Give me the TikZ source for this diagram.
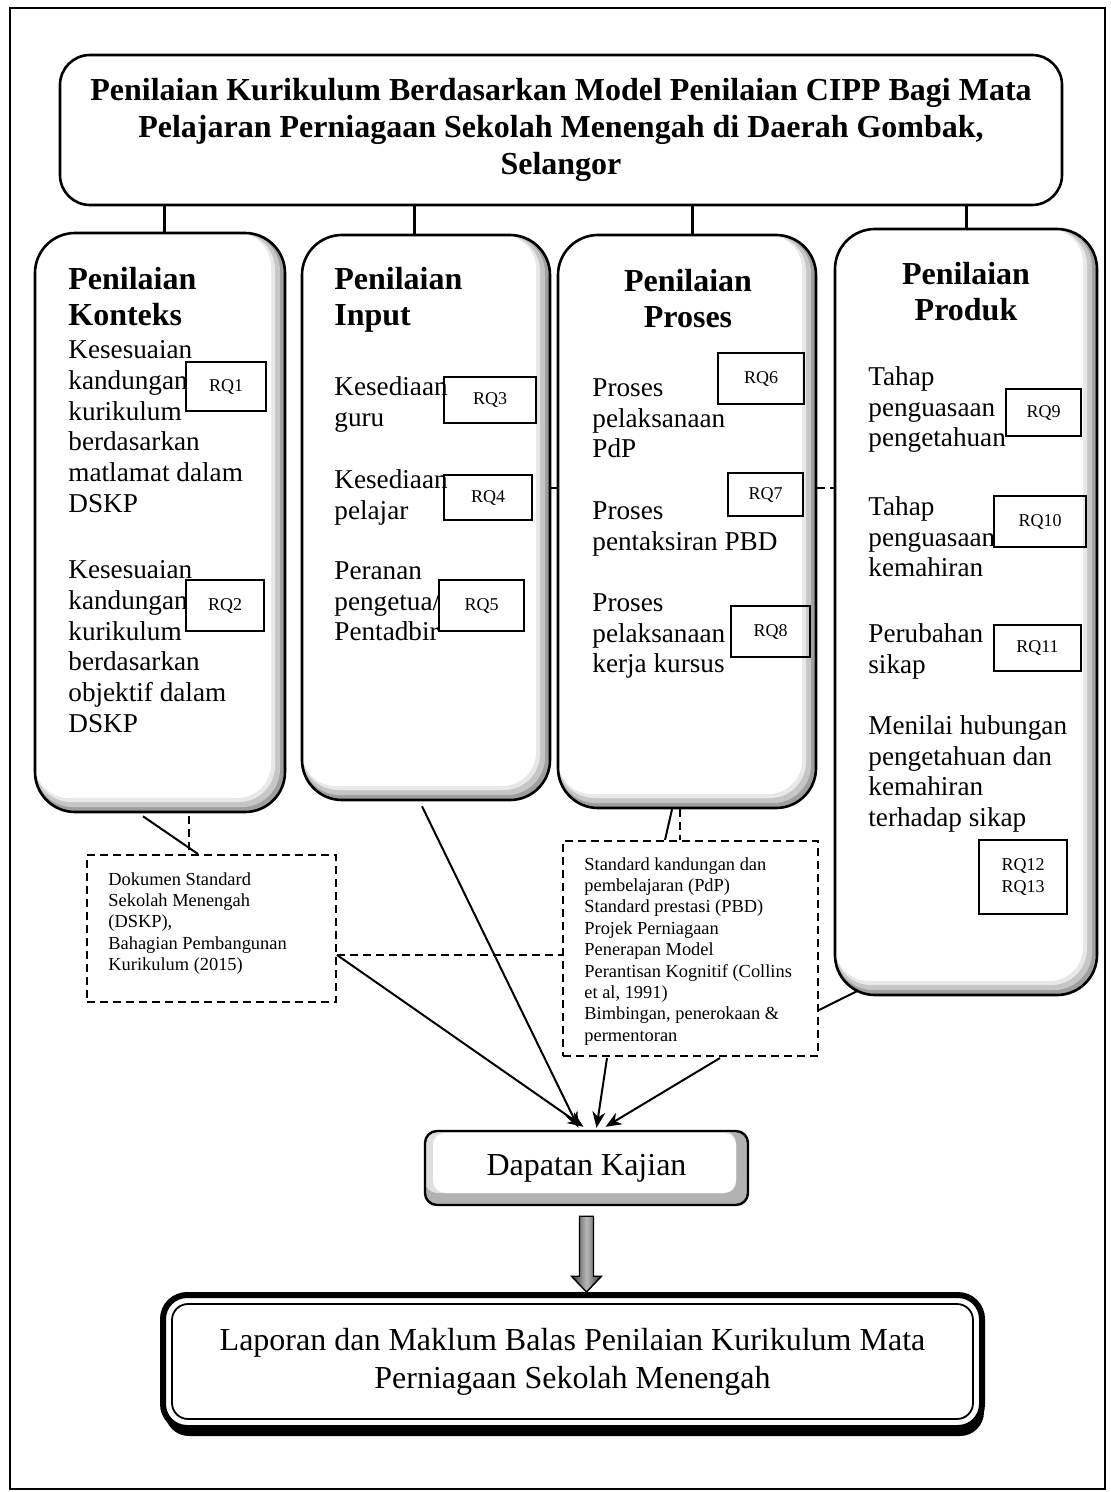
\documentclass[tikz,border=0pt]{standalone}
\usepackage{fontspec}
\setmainfont{Liberation Serif}
\usetikzlibrary{fit,arrows.meta,shadows,calc}

\newcommand\fTitle{\bfseries\fontsize{16}{18.7}\selectfont}
\newcommand\fHead{\bfseries\fontsize{16}{18}\selectfont}
\newcommand\fBody{\fontsize{13.6}{15.4}\selectfont}
\newcommand\fRq{\fontsize{9}{11}\selectfont}
\newcommand\fNote{\fontsize{9.2}{10.7}\selectfont}
\newcommand\fBig{\fontsize{16}{19}\selectfont}

\begin{document}
\begin{tikzpicture}[x=0.5pt,y=-0.5pt,
  titlebox/.style={draw, line width=1.3pt, rounded corners=15pt, inner sep=0pt,
    align=center, font=\fTitle},
  colbox/.style={draw, line width=1.3pt, rounded corners=20pt, inner sep=0pt, fill=gray!75,
    path picture={
      \fill[gray!45, rounded corners=19pt] (path picture bounding box.north west)
        rectangle ([shift={(-2.5pt,2.5pt)}]path picture bounding box.south east);
      \fill[gray!18, rounded corners=18pt] (path picture bounding box.north west)
        rectangle ([shift={(-5pt,5pt)}]path picture bounding box.south east);
      \fill[white, rounded corners=17pt] (path picture bounding box.north west)
        rectangle ([shift={(-7pt,7pt)}]path picture bounding box.south east);}},
  hd/.style={inner sep=0pt, anchor=north west, align=left, font=\fHead},
  txt/.style={inner sep=0pt, anchor=north west, align=left, font=\fBody},
  rqbox/.style={draw, line width=0.6pt, inner sep=0pt, align=center, font=\fRq},
  notebox/.style={draw, line width=1pt, dash pattern=on 4pt off 2.5pt, inner sep=0pt},
  note/.style={inner sep=0pt, anchor=north west, align=left, font=\fNote},
  dashlink/.style={line width=1pt, dash pattern=on 4pt off 2.5pt},
  link/.style={line width=1pt},
  stem/.style={line width=1.5pt},
  arr/.style={line width=1pt, -{Stealth[length=8pt,width=6.5pt]}},
  dapbox/.style={draw, line width=1.2pt, rounded corners=6pt, inner sep=0pt, fill=gray!60,
    font=\fBig,
    path picture={
      \fill[gray!25] (path picture bounding box.north west)
        rectangle ([shift={(-6pt,6pt)}]path picture bounding box.south east);
      \fill[white] ([shift={(4pt,-1pt)}]path picture bounding box.north west)
        rectangle ([shift={(-6pt,6pt)}]path picture bounding box.south east);}},
  lapbox/.style={draw, line width=3pt, rounded corners=12pt, inner sep=0pt, fill=white,
    align=center, font=\fBig,
    drop shadow={shadow xshift=1pt, shadow yshift=-4pt, fill=black, opacity=1},
    path picture={
      \draw[line width=0.9pt, rounded corners=8pt]
        ([shift={(4.5pt,-4.5pt)}]path picture bounding box.north west)
        rectangle ([shift={(-4.5pt,4.5pt)}]path picture bounding box.south east);}}
]
\useasboundingbox (0,0) rectangle (1111,1492);
\draw[line width=0.8pt] (10,8) rectangle (1105,1489);

\node[titlebox, minimum width=501pt, minimum height=75pt] (tt) at (561,130)
  {Penilaian Kurikulum Berdasarkan Model Penilaian CIPP Bagi Mata\\
   Pelajaran Perniagaan Sekolah Menengah di Daerah Gombak,\\Selangor};

\node[colbox, fit={(35,233) (285,812)}] (konteks) {};
\node[colbox, fit={(302,235) (550,800)}] (input) {};
\node[colbox, fit={(558,235) (816,808)}] (proses) {};
\node[colbox, fit={(835,229) (1097,995)}] (produk) {};

\draw[stem] ($(konteks.north)+(4,0)$) coordinate (s1) -- (s1 |- tt.south);
\draw[stem] ($(input.north)+(-12,0)$) coordinate (s2) -- (s2 |- tt.south);
\draw[stem] ($(proses.north)+(5,0)$) coordinate (s3) -- (s3 |- tt.south);
\draw[stem] (produk.north) -- (produk.north |- tt.south);

%% konteks
\node[hd] (kontekshd) at (68,267) {Penilaian\\Konteks};
\node[txt] (konteks1) at (68,340)
  {Kesesuaian\\kandungan\\kurikulum\\berdasarkan\\matlamat dalam\\DSKP};
\node[txt] (konteks2) at (68,560)
  {Kesesuaian\\kandungan\\kurikulum\\berdasarkan\\objektif dalam\\DSKP};
\node[rqbox, minimum width=40pt, minimum height=24.5pt] (rq1) at (226,386.5) {RQ1};
\node[rqbox, minimum width=39pt, minimum height=25.5pt] (rq2) at (225,605.5) {RQ2};

%% input
\node[hd] (inputhd) at (334,267) {Penilaian\\Input};
\node[txt] (input1) at (334,376) {Kesediaan\\guru};
\node[txt] (input2) at (334,469) {Kesediaan\\pelajar};
\node[txt] (input3) at (334,561) {Peranan\\pengetua/\\Pentadbir};
\node[rqbox, minimum width=46pt, minimum height=23pt] (rq3) at (490,400) {RQ3};
\node[rqbox, minimum width=44pt, minimum height=22.5pt] (rq4) at (488,497.5) {RQ4};
\node[rqbox, minimum width=42.5pt, minimum height=25.5pt] (rq5) at (481.5,605.5) {RQ5};

%% proses
\node[hd, anchor=north, align=center] (proseshd) at (688,269) {Penilaian\\Proses};
\node[txt] (proses1) at (592,378) {Proses\\pelaksanaan\\PdP};
\node[txt] (proses2) at (592,501) {Proses\\pentaksiran PBD};
\node[txt] (proses3) at (592,593) {Proses\\pelaksanaan\\kerja kursus};
\node[rqbox, minimum width=43pt, minimum height=25.5pt] (rq6) at (761,378.5) {RQ6};
\node[rqbox, minimum width=37.5pt, minimum height=21.5pt] (rq7) at (765.5,494.5) {RQ7};
\node[rqbox, minimum width=39.5pt, minimum height=25.5pt] (rq8) at (770.5,631.5) {RQ8};

%% produk
\node[hd, anchor=north, align=center] (produkhd) at (966,262) {Penilaian\\Produk};
\node[txt] (produk1) at (868,366) {Tahap\\penguasaan\\pengetahuan};
\node[txt] (produk2) at (868,496) {Tahap\\penguasaan\\kemahiran};
\node[txt] (produk3) at (868,623) {Perubahan\\sikap};
\node[txt] (produk4) at (868,715)
  {Menilai hubungan\\pengetahuan dan\\kemahiran\\terhadap sikap};
\node[rqbox, minimum width=37.5pt, minimum height=23.5pt] (rq9) at (1043.5,412.5) {RQ9};
\node[rqbox, minimum width=46pt, minimum height=25.5pt] (rq10) at (1040,521.5) {RQ10};
\node[rqbox, minimum width=43.5pt, minimum height=23pt] (rq11) at (1037.5,648) {RQ11};
\node[rqbox, minimum width=44pt, minimum height=37pt] (rq12) at (1023,877) {RQ12\\RQ13};

%% links between columns
\coordinate (lk) at ($(input.east)+(0,-29.5)$);
\draw[link] (lk) -- (lk -| proses.west);
\draw[dashlink] (lk -| proses.east) -- (lk -| produk.west);

%% sources
\node[notebox, fit={(87,855) (336,1002)}] (dokumen) {};
\node[note] (dokumentx) at (108,872)
  {Dokumen Standard\\Sekolah Menengah\\(DSKP),\\Bahagian Pembangunan\\Kurikulum (2015)};
\node[notebox, fit={(563,841) (818,1056)}] (standard) {};
\node[note] (standardtx) at (584,857)
  {Standard kandungan dan\\pembelajaran (PdP)\\Standard prestasi (PBD)\\Projek Perniagaan\\
   Penerapan Model\\Perantisan Kognitif (Collins\\et al, 1991)\\Bimbingan, penerokaan \&\\permentoran};

\draw[link] ($(konteks.south)+(-17,3)$) -- ($(dokumen.north)+(-13.5,0)$); %% konteks -> dokumen
\draw[dashlink] ($(konteks.south)+(29,3)$) coordinate (kd) -- (kd |- dokumen.north);
\draw[link] ($(proses.south)+(-15,0)$) -- ($(standard.north)+(-25.5,0)$); %% proses -> standard
\draw[dashlink] ($(proses.south)+(-7,0)$) coordinate (pd) -- (pd |- standard.north);
\draw[link] ($(produk.south west)+(23,-5)$) -- ($(standard.east)+(0,61.5)$); %% produk -> standard
\coordinate (ds) at ($(dokumen.east)+(0,26.5)$);
\draw[dashlink] (ds) -- (ds -| standard.west);

%% dapatan
\node[dapbox, minimum width=161.5pt, minimum height=37pt] (dapatan) at (586.5,1168) {Dapatan Kajian};

\draw[arr] (ds) -- ($(dapatan.north)+(-3,-3)$);
\draw[arr] ($(input.south)+(-4,5)$) -- ($(dapatan.north)+(-8,-2)$);
\draw[arr] ($(standard.south)+(-83.5,1)$) -- ($(dapatan.north)+(10,-2)$);
\draw[arr] ($(standard.south)+(29.5,1)$) -- ($(dapatan.north)+(19,-3)$);

%% laporan
\node[lapbox, minimum width=409.5pt, minimum height=66.5pt] (laporan) at (572.5,1361.5)
  {Laporan dan Maklum Balas Penilaian Kurikulum Mata\\Perniagaan Sekolah Menengah};

\coordinate (ba) at ($(dapatan.south)+(0,10)$);
\shadedraw[left color=black!80, right color=black!80, middle color=gray!55, line width=0.7pt]
  ($(ba)+(-7,0)$) -- ($(ba)+(7,0)$) -- ($(ba)+(7,60)$) -- ($(ba)+(15,60)$)
  -- (ba |- laporan.north) -- ($(ba)+(-15,60)$) -- ($(ba)+(-7,60)$) -- cycle;

\end{tikzpicture}
\end{document}
